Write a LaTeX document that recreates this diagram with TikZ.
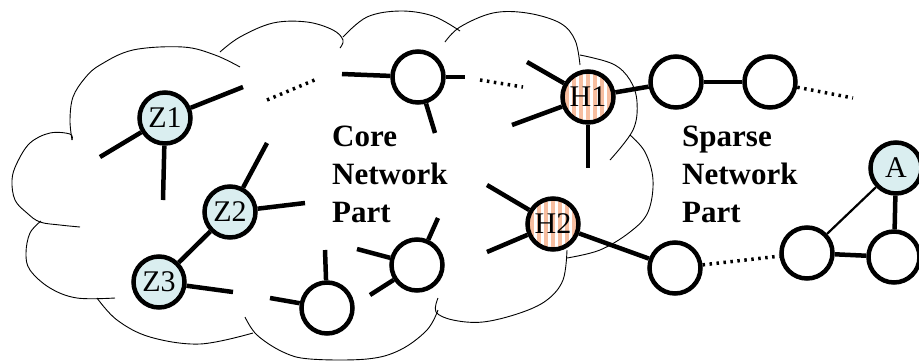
\documentclass[tikz,border=0pt]{standalone}
\usepackage{fontspec}
\setmainfont{Liberation Serif}
\definecolor{zfill}{RGB}{218,238,240}
\definecolor{hstripe}{RGB}{247,190,160}
\begin{document}
\begin{tikzpicture}[x=1pt,y=-1pt,
  cloudline/.style={line width=0.9pt, line join=round},
  nd/.style={circle, draw=black, line width=4.5pt, minimum size=51pt, inner sep=0pt, fill=white,
    font=\fontsize{30}{30}\selectfont},
  znode/.style={nd, fill=zfill},
  hnode/.style={nd, fill=white, path picture={
      \foreach \i in {-5,...,5}
        \fill[hstripe] ([xshift=\i*7pt-1.9pt]path picture bounding box.south) rectangle ([xshift=\i*7pt+1.9pt]path picture bounding box.north);}},
  edge/.style={line width=4.5pt},
  thin/.style={line width=2.2pt},
  dots/.style={line width=3.5pt, dash pattern=on 2.5pt off 4.5pt},
  lbl/.style={anchor=base west, inner sep=0pt, font=\fontsize{31}{31}\selectfont\bfseries}
]
\useasboundingbox (0,0) rectangle (919,360);

% cloud
\draw[cloudline] plot[smooth, tension=0.6] coordinates {(72,140)(70,120)(73,97)(85,78)(100,65)(133,50)(183,47)(215,55)(240,67)};
\draw[cloudline] plot[smooth, tension=0.6] coordinates {(220,52)(240,37)(273,23)(307,22)(333,30)(343,40)(340,48)};
\draw[cloudline] plot[smooth, tension=0.6] coordinates {(343,37)(367,17)(400,11)(433,16)(460,31)};
\draw[cloudline] plot[smooth, tension=0.6] coordinates {(445,42)(460,27)(493,13)(527,13)(560,23)(575,40)(580,65)};
\draw[cloudline] plot[smooth, tension=0.6] coordinates {(580,55)(613,64)(630,80)(637,102)(633,130)(610,160)};
\draw[cloudline] plot[smooth, tension=0.6] coordinates {(630,135)(645,152)(653,180)(648,212)(630,232)(600,250)(567,258)};
\draw[cloudline] plot[smooth, tension=0.6] coordinates {(567,250)(563,280)(547,300)(520,313)(483,322)(453,320)(436,312)(438,298)};
\draw[cloudline] plot[smooth, tension=0.6] coordinates {(438,310)(427,330)(400,350)(367,359)(310,359)(283,352)(257,335)(245,317)};
\draw[cloudline] plot[smooth, tension=0.6] coordinates {(97,298)(117,320)(150,337)(200,344)(253,333)};
\draw[cloudline] plot[smooth, tension=0.6] coordinates {(41,221)(30,233)(26,253)(30,270)(50,288)(77,298)(115,298)};
\draw[cloudline] plot[smooth, tension=0.6] coordinates {(72,140)(70,134)(50,133)(30,143)(17,163)(12,180)(15,200)(27,213)(40,222)(60,225)(80,227)};

% nodes
\node[znode] (z1) at (165,118) {Z1};
\node[znode] (z2) at (230,212) {Z2};
\node[znode] (z3) at (159,282) {Z3};
\node[nd] (c1) at (418,77) {};
\node[nd] (c2) at (417,265) {};
\node[nd] (c3) at (327,308) {};
\node[hnode] (h1) at (588,97) {H1};
\node[hnode] (h2) at (553,224) {H2};
\node[nd] (s1) at (676,82) {};
\node[nd] (s2) at (770,82) {};
\node[nd] (s3) at (675,268) {};
\node[nd] (s4) at (807,253) {};
\node[nd] (s5) at (894,257) {};
\node[znode] (a) at (896,168) {A};

% free ends
\coordinate (e1) at (243,87);
\coordinate (e2) at (100,157);
\coordinate (e3) at (163,200);
\coordinate (d1a) at (267,100);
\coordinate (d1b) at (317,79);
\coordinate (e4) at (342,74);
\coordinate (e5) at (435,133);
\coordinate (e6) at (465,77);
\coordinate (d2a) at (480,80);
\coordinate (d2b) at (523,87);
\coordinate (e7) at (267,143);
\coordinate (e8) at (305,203);
\coordinate (e9) at (233,292);
\coordinate (e10) at (325,250);
\coordinate (e11) at (270,298);
\coordinate (e12) at (438,218);
\coordinate (e13) at (357,249);
\coordinate (e14) at (370,295);
\coordinate (e15) at (527,62);
\coordinate (e16) at (512,125);
\coordinate (e17) at (588,168);
\coordinate (e18) at (487,185);
\coordinate (e19) at (487,252);
\coordinate (e20) at (853,98);

% connectors
\draw[edge] (z1) -- (e1);
\draw[edge] (z1) -- (e2);
\draw[edge] (z1) -- (e3);
\draw[dots] (d1a) -- (d1b);
\draw[edge] (c1) -- (e4);
\draw[edge] (c1) -- (e5);
\draw[edge] (c1) -- (e6);
\draw[dots] (d2a) -- (d2b);
\draw[edge] (z2) -- (e7);
\draw[edge] (z2) -- (e8);
\draw[edge] (z2) -- (z3);
\draw[edge] (z3) -- (e9);
\draw[edge] (c3) -- (e10);
\draw[edge] (c3) -- (e11);
\draw[edge] (c2) -- (e12);
\draw[edge] (c2) -- (e13);
\draw[edge] (c2) -- (e14);
\draw[edge] (h1) -- (e15);
\draw[edge] (h1) -- (e16);
\draw[edge] (h1) -- (e17);
\draw[edge] (h1) -- (s1);
\draw[edge] (s1) -- (s2);
\draw[dots] (s2) -- (e20);
\draw[edge] (h2) -- (e18);
\draw[edge] (h2) -- (e19);
\draw[edge] (h2) -- (s3);
\draw[dots] (s3) -- (s4);
\draw[edge] (s4) -- (s5);
\draw[edge] (a) -- (s5);
\draw[thin] (s4) -- (a);

% labels
\node[lbl] (t1) at (332,146) {Core};
\node[lbl] (t2) at (332,184) {Network};
\node[lbl] (t3) at (332,222) {Part};
\node[lbl] (t4) at (682,146) {Sparse};
\node[lbl] (t5) at (682,184) {Network};
\node[lbl] (t6) at (682,222) {Part};
\end{tikzpicture}
\end{document}
